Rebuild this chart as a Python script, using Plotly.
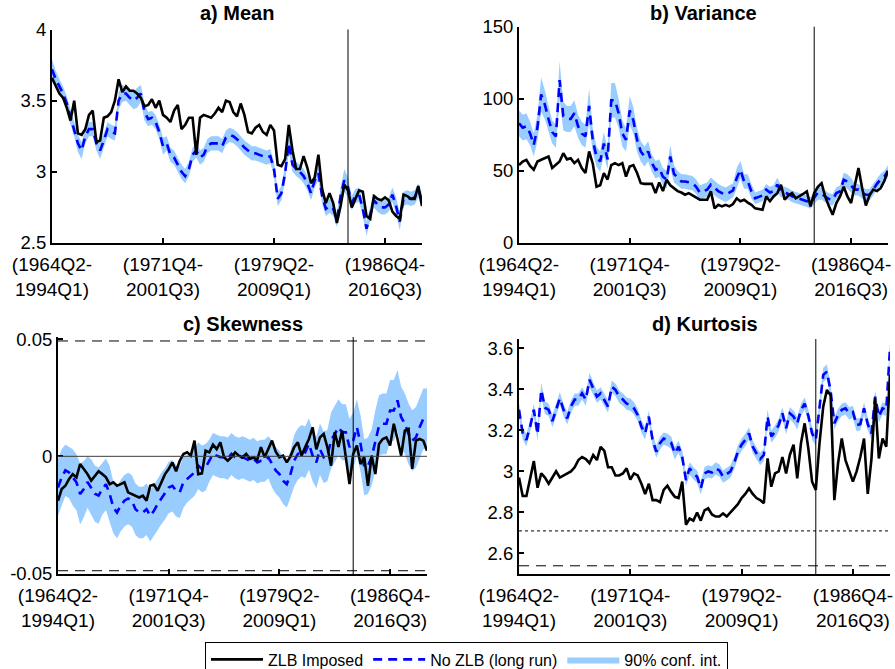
import numpy as np
import plotly.graph_objects as go

# Rolling 30-year windows, indexed in quarters from the 1964Q2-1994Q1 window
window_index = list(range(101))
window_ticks = [0, 30, 60, 90]
window_labels = ["(1964Q2-<br>1994Q1)", "(1971Q4-<br>2001Q3)",
                 "(1979Q2-<br>2009Q1)", "(1986Q4-<br>2016Q3)"]
zlb_window = 80

# a) Mean
mean_zlb = [3.66, 3.60, 3.55, 3.52, 3.45, 3.36, 3.50, 3.27, 3.26, 3.30,
            3.40, 3.43, 3.21, 3.22, 3.38, 3.39, 3.42, 3.50, 3.65, 3.56,
            3.60, 3.57, 3.57, 3.55, 3.52, 3.46, 3.47, 3.51, 3.45, 3.50,
            3.40, 3.38, 3.35, 3.43, 3.47, 3.30, 3.33, 3.38, 3.38, 3.12,
            3.38, 3.40, 3.39, 3.38, 3.41, 3.45, 3.42, 3.50, 3.49, 3.42,
            3.39, 3.48, 3.40, 3.28, 3.27, 3.31, 3.33, 3.28, 3.26, 3.33,
            3.29, 3.05, 3.04, 3.09, 3.33, 3.15, 3.02, 3.02, 3.11, 3.03,
            2.92, 2.96, 3.12, 2.88, 2.78, 2.85, 2.78, 2.64, 2.76, 2.91,
            2.87, 2.75, 2.81, 2.87, 2.86, 2.69, 2.67, 2.83, 2.81, 2.80,
            2.82, 2.80, 2.72, 2.69, 2.67, 2.84, 2.83, 2.81, 2.81, 2.90,
            2.76]
mean_nozlb = [3.72, 3.65, 3.60, 3.55, 3.48, 3.38, 3.30, 3.20, 3.15, 3.25,
              3.30, 3.30, 3.20, 3.15, 3.22, 3.30, 3.28, 3.27, 3.50, 3.55,
              3.55, 3.52, 3.50, 3.52, 3.55, 3.42, 3.37, 3.38, 3.35, 3.28,
              3.18, 3.20, 3.12, 3.10, 3.05, 3.00, 2.97, 3.02, 3.12, 3.15,
              3.10, 3.12, 3.18, 3.20, 3.20, 3.20, 3.18, 3.24, 3.26, 3.25,
              3.23, 3.20, 3.17, 3.15, 3.13, 3.13, 3.12, 3.11, 3.10, 3.11,
              3.02, 2.81, 2.85, 2.99, 3.20, 3.05, 3.02, 3.00, 2.97, 2.92,
              2.85, 2.94, 2.99, 2.83, 2.74, 2.76, 2.74, 2.66, 2.83, 2.94,
              2.89, 2.78, 2.83, 2.84, 2.74, 2.60, 2.71, 2.80, 2.77, 2.75,
              2.75, 2.77, 2.84, 2.76, 2.65, 2.81, 2.82, 2.81, 2.82, 2.87,
              2.80]
mean_ci_half = [0.07, 0.06, 0.05, 0.05, 0.05, 0.05, 0.05, 0.06, 0.06, 0.05,
                0.05, 0.05, 0.05, 0.06, 0.05, 0.05, 0.05, 0.05, 0.06, 0.06,
                0.05, 0.05, 0.06, 0.07, 0.06, 0.06, 0.05, 0.05, 0.05, 0.05,
                0.06, 0.05, 0.05, 0.05, 0.05, 0.05, 0.05, 0.05, 0.05, 0.05,
                0.05, 0.05, 0.05, 0.05, 0.05, 0.05, 0.05, 0.05, 0.05, 0.05,
                0.05, 0.05, 0.05, 0.05, 0.05, 0.05, 0.05, 0.05, 0.05, 0.05,
                0.05, 0.05, 0.05, 0.06, 0.06, 0.05, 0.05, 0.05, 0.05, 0.05,
                0.05, 0.05, 0.05, 0.05, 0.05, 0.05, 0.05, 0.05, 0.06, 0.08,
                0.07, 0.05, 0.05, 0.05, 0.05, 0.05, 0.05, 0.05, 0.05, 0.05,
                0.05, 0.05, 0.05, 0.06, 0.06, 0.05, 0.05, 0.05, 0.05, 0.05,
                0.05]

# b) Variance
var_zlb = [54, 56.5, 57.7, 53.5, 50.8, 56.5, 57.7, 58.8, 60, 52,
           54, 56.5, 62.3, 58, 58.8, 55.4, 57.7, 52, 48.5, 63.5,
           55, 39, 40, 48.5, 44, 54, 55.4, 54, 55.4, 46,
           53, 54, 48.5, 41.5, 41, 41, 41, 34.6, 42, 36,
           43.8, 40, 38, 36, 35, 33.5, 34.6, 33, 31, 30,
           30, 30, 35.8, 24, 26.5, 25.4, 26.5, 25.4, 27, 31,
           29, 30, 28, 26.5, 24, 23.5, 23, 32.3, 29, 32.3,
           34.6, 40.4, 30, 33, 34.6, 31, 32.3, 34, 35.8, 25.4,
           34.6, 39, 41.5, 32, 25.4, 19.6, 27.7, 32.3, 39, 32.3,
           27.7, 40, 52, 38, 26, 33, 37, 36, 38, 43,
           50]
var_nozlb = [83, 80, 81, 76, 68, 80, 103, 96, 86, 77,
             74, 113, 88, 86, 86, 90, 81, 76, 74, 95,
             71, 60, 56.5, 69, 58, 99, 99, 90, 76, 71.5,
             92, 85, 71.5, 63.5, 60, 63.5, 55.4, 50.8, 52, 46,
             44, 60, 48, 45, 42.7, 42.7, 42, 41.5, 39, 35,
             36, 37, 40.4, 38, 36, 34.6, 33.5, 35, 36.5, 45,
             50.8, 42.7, 42.7, 35.8, 31, 32, 33, 37, 35, 36,
             40.4, 35.8, 35, 34, 32.3, 31.5, 30.5, 30, 29, 27.7,
             31, 35, 34, 32.3, 30.5, 30, 34.6, 35.8, 43.8, 42.7,
             40, 37, 37, 34.6, 33.5, 33.5, 37, 41, 44, 46,
             50]
var_ci_half = [9, 9, 9, 8, 8, 9, 12, 10, 9, 8,
               8, 13, 10, 9, 9, 9, 8, 8, 8, 12,
               8, 7, 7, 8, 7, 12, 12, 10, 9, 8,
               10, 9, 8, 7, 7, 7, 6, 6, 6, 6,
               6, 8, 6, 5, 5, 5, 5, 5, 5, 5,
               5, 5, 5, 5, 5, 5, 5, 5, 5, 7,
               6, 5, 5, 5, 4, 4, 4, 4, 4, 4,
               5, 4, 4, 4, 4, 4, 4, 4, 4, 4,
               4, 5, 4, 4, 4, 4, 4, 4, 5, 5,
               5, 4, 4, 4, 4, 4, 4, 4, 4, 4,
               4]

# c) Skewness
skew_zlb = [-0.019, -0.014, -0.0126, -0.0097, -0.0076, -0.009, -0.0033, -0.0054, -0.0076, -0.0104,
            -0.0083, -0.0064, -0.0076, -0.009, -0.0119, -0.0111, -0.0126, -0.0119, -0.0111, -0.0154,
            -0.0161, -0.0168, -0.0176, -0.0168, -0.019, -0.0126, -0.0121, -0.0147, -0.0111, -0.0076,
            -0.0054, -0.0026, -0.0064, -0.0019, 0.001, 0.0017, 0.0003, 0.0067, -0.0076, -0.0073,
            0.0024, 0.0017, 0.005, 0.0031, 0.006, -0.0004, -0.0019, -0.0004, 0.0017, 0.0003,
            -0.0004, 0.001, -0.0011, -0.0005, -0.0015, 0.0039, -0.0004, 0.003, 0.0067, 0.002,
            -0.0004, 0.0003, -0.0026, 0.0, 0.0039, 0.006, 0.0003, 0.004, 0.0074, 0.0124,
            0.003, 0.0081, 0.0096, 0.0039, -0.004, 0.0103, 0.004, 0.011, -0.0004, -0.0119,
            0.001, 0.0046, -0.0033, -0.0004, -0.0126, 0.0003, -0.0076, 0.0053, 0.0074, 0.0081,
            0.0046, 0.0139, 0.0074, 0.0003, 0.011, 0.0117, -0.0054, 0.0067, 0.0074, 0.0067,
            0.0024]
skew_nozlb = [-0.0133, -0.009, -0.006, -0.0069, -0.009, -0.0111, -0.0161, -0.014, -0.011, -0.0133,
              -0.016, -0.0168, -0.014, -0.0119, -0.0161, -0.0219, -0.024, -0.021, -0.019, -0.018,
              -0.019, -0.0226, -0.024, -0.024, -0.0226, -0.0254, -0.0233, -0.0204, -0.018, -0.016,
              -0.0133, -0.0126, -0.0147, -0.0154, -0.011, -0.0097, -0.0083, -0.0069, -0.004, -0.0054,
              -0.0047, -0.0019, 0.001, 0.0003, -0.0004, -0.0004, -0.001, 0.001, -0.0004, -0.0011,
              -0.0004, -0.0011, -0.0019, -0.0011, -0.0026, -0.0019, -0.0019, -0.0004, -0.0033, -0.006,
              -0.0076, -0.0104, -0.0119, -0.0076, -0.0019, 0.001, 0.0024, 0.0017, 0.0053, 0.0003,
              -0.0026, 0.003, -0.0004, 0.0003, 0.0067, 0.0096, 0.0124, 0.0103, 0.0103, 0.0039,
              0.0067, 0.0124, 0.0053, -0.0047, -0.004, -0.0004, 0.0067, 0.0131, 0.0139, 0.0139,
              0.0196, 0.0196, 0.0239, 0.0167, 0.0139, 0.0096, 0.0067, 0.0081, 0.0124, 0.016,
              0.016]
skew_ci_half = [0.012, 0.012, 0.011, 0.011, 0.012, 0.012, 0.013, 0.012, 0.011, 0.012,
                0.012, 0.012, 0.011, 0.011, 0.012, 0.011, 0.011, 0.011, 0.011, 0.011,
                0.011, 0.011, 0.011, 0.011, 0.011, 0.011, 0.011, 0.011, 0.011, 0.011,
                0.011, 0.011, 0.011, 0.011, 0.011, 0.010, 0.010, 0.010, 0.010, 0.010,
                0.010, 0.009, 0.009, 0.009, 0.009, 0.009, 0.009, 0.009, 0.009, 0.009,
                0.009, 0.009, 0.009, 0.009, 0.009, 0.009, 0.009, 0.009, 0.010, 0.010,
                0.010, 0.010, 0.010, 0.010, 0.011, 0.011, 0.011, 0.011, 0.011, 0.011,
                0.011, 0.011, 0.011, 0.011, 0.012, 0.012, 0.012, 0.012, 0.012, 0.012,
                0.012, 0.012, 0.012, 0.012, 0.012, 0.012, 0.013, 0.013, 0.013, 0.013,
                0.013, 0.013, 0.013, 0.013, 0.013, 0.013, 0.013, 0.013, 0.013, 0.013,
                0.013]

# d) Kurtosis
kurt_zlb = [2.97, 2.88, 2.88, 2.96, 3.05, 2.92, 2.99, 2.97, 2.94, 2.97,
            3.00, 2.97, 2.98, 2.99, 3.00, 3.02, 3.055, 3.07, 3.06, 3.04,
            3.08, 3.055, 3.12, 3.10, 3.02, 3.02, 2.98, 2.98, 2.99, 3.015,
            2.96, 2.99, 2.98, 2.94, 2.89, 2.94, 2.86, 2.86, 2.85, 2.91,
            2.93, 2.90, 2.876, 2.87, 2.95, 2.74, 2.77, 2.76, 2.80, 2.76,
            2.81, 2.82, 2.79, 2.78, 2.78, 2.795, 2.78, 2.80, 2.82, 2.84,
            2.87, 2.89, 2.917, 2.89, 2.87, 2.86, 2.845, 3.063, 2.925, 2.99,
            3.00, 3.07, 2.99, 3.08, 3.13, 2.966, 3.137, 3.234, 3.11, 2.95,
            2.91, 3.137, 3.315, 3.397, 3.37, 2.86, 3.04, 3.16, 3.055, 3.00,
            2.95, 3.00, 3.07, 3.16, 2.89, 3.06, 3.356, 3.063, 3.16, 3.12,
            3.47]
kurt_nozlb = [3.30, 3.185, 3.153, 3.218, 3.30, 3.18, 3.397, 3.31, 3.30, 3.245,
              3.30, 3.356, 3.30, 3.258, 3.316, 3.35, 3.35, 3.38, 3.35, 3.446,
              3.405, 3.364, 3.38, 3.35, 3.316, 3.413, 3.397, 3.364, 3.35, 3.33,
              3.325, 3.307, 3.275, 3.218, 3.185, 3.267, 3.153, 3.096, 3.137, 3.16,
              3.153, 3.14, 3.088, 3.12, 3.07, 2.958, 3.015, 2.99, 2.974, 2.917,
              2.99, 3.00, 2.995, 3.015, 3.005, 2.974, 2.985, 3.00, 3.04, 3.096,
              3.13, 3.153, 3.185, 3.12, 3.088, 3.06, 3.08, 3.267, 3.17, 3.193,
              3.226, 3.283, 3.21, 3.283, 3.267, 3.234, 3.30, 3.33, 3.27, 3.185,
              3.153, 3.316, 3.47, 3.486, 3.39, 3.234, 3.275, 3.30, 3.307, 3.283,
              3.29, 3.226, 3.23, 3.307, 3.23, 3.185, 3.364, 3.267, 3.307, 3.30,
              3.60]
kurt_ci_half = [0.035, 0.03, 0.03, 0.03, 0.03, 0.03, 0.035, 0.03, 0.03, 0.03,
                0.03, 0.03, 0.03, 0.03, 0.03, 0.03, 0.03, 0.03, 0.03, 0.035,
                0.03, 0.03, 0.03, 0.03, 0.03, 0.03, 0.03, 0.03, 0.03, 0.03,
                0.03, 0.03, 0.03, 0.03, 0.03, 0.03, 0.03, 0.03, 0.03, 0.03,
                0.03, 0.03, 0.03, 0.03, 0.03, 0.03, 0.03, 0.03, 0.03, 0.03,
                0.03, 0.03, 0.03, 0.03, 0.03, 0.03, 0.03, 0.03, 0.03, 0.03,
                0.03, 0.03, 0.03, 0.03, 0.03, 0.03, 0.03, 0.035, 0.03, 0.03,
                0.03, 0.03, 0.03, 0.03, 0.03, 0.03, 0.03, 0.03, 0.03, 0.03,
                0.03, 0.03, 0.035, 0.035, 0.03, 0.03, 0.03, 0.03, 0.03, 0.03,
                0.03, 0.03, 0.03, 0.03, 0.03, 0.03, 0.03, 0.03, 0.03, 0.03,
                0.035]

FONT = "Liberation Sans, Arial, sans-serif"
BAND = "rgb(153,204,255)"
W, H = 895, 669

panels = [
    dict(key="", title="<b>a) Mean</b>", zlb=mean_zlb, nozlb=mean_nozlb, half=mean_ci_half,
         px=(52, 422), py=(29.5, 243), yr=[2.5, 4], yt=[2.5, 3, 3.5, 4], ytt=["2.5", "3", "3.5", "4"]),
    dict(key="2", title="<b>b) Variance</b>", zlb=var_zlb, nozlb=var_nozlb, half=var_ci_half,
         px=(519, 888), py=(26.7, 243), yr=[0, 150], yt=[0, 50, 100, 150], ytt=["0", "50", "100", "150"]),
    dict(key="3", title="<b>c) Skewness</b>", zlb=skew_zlb, nozlb=skew_nozlb, half=skew_ci_half,
         px=(58, 427), py=(337, 574), yr=[-0.0503, 0.051], yt=[-0.05, 0, 0.05], ytt=["-0.05", "0", "0.05"]),
    dict(key="4", title="<b>d) Kurtosis</b>", zlb=kurt_zlb, nozlb=kurt_nozlb, half=kurt_ci_half,
         px=(519, 890), py=(339, 574), yr=[2.5, 3.645], yt=[2.6, 2.8, 3.0, 3.2, 3.4, 3.6],
         ytt=["2.6", "2.8", "3", "3.2", "3.4", "3.6"]),
]

fig = go.Figure()
layout = dict(width=W, height=H, margin=dict(l=0, r=0, t=0, b=0, autoexpand=False),
              paper_bgcolor="white", plot_bgcolor="white",
              font=dict(family=FONT, size=18, color="black"))
annotations, shapes = [], []

axis_style = dict(showline=True, linecolor="black", linewidth=2, ticks="inside",
                  ticklen=5, tickwidth=1.5, tickcolor="black", showgrid=False,
                  zeroline=False, mirror=False, automargin=False,
                  tickfont=dict(size=18.5, family=FONT, color="black"))

x = np.array(window_index)
for n, p in enumerate(panels):
    xa, ya = "x" + p["key"], "y" + p["key"]
    centre = np.array(p["nozlb"], dtype=float)
    half = np.array(p["half"], dtype=float)
    lo, hi = centre - half, centre + half
    first = n == 0

    fig.add_trace(go.Scatter(
        x=np.concatenate([x, x[::-1]]), y=np.concatenate([hi, lo[::-1]]),
        fill="toself", fillcolor=BAND, line=dict(width=0, color=BAND),
        mode="lines", name="90% conf. int.", showlegend=first, legendrank=3,
        hoverinfo="skip", xaxis=xa, yaxis=ya))
    fig.add_trace(go.Scatter(
        x=x, y=p["nozlb"], mode="lines", name="No ZLB (long run)",
        line=dict(color="rgb(0,0,255)", width=2.6, dash="9px,6px"),
        showlegend=first, legendrank=2, xaxis=xa, yaxis=ya))
    fig.add_trace(go.Scatter(
        x=x, y=p["zlb"], mode="lines", name="ZLB Imposed",
        line=dict(color="black", width=2.6),
        showlegend=first, legendrank=1, xaxis=xa, yaxis=ya))

    x0, x1 = p["px"][0] / W, p["px"][1] / W
    y0, y1 = 1 - p["py"][1] / H, 1 - p["py"][0] / H
    layout["xaxis" + p["key"]] = dict(
        axis_style, domain=[x0, x1], range=[0, 100], anchor=ya,
        tickvals=window_ticks, ticktext=window_labels,
        tickfont=dict(size=19, family=FONT, color="black"), ticklabelstandoff=3)
    layout["yaxis" + p["key"]] = dict(
        axis_style, domain=[y0, y1], range=p["yr"], anchor=xa,
        tickvals=p["yt"], ticktext=p["ytt"])

    annotations.append(dict(
        text=p["title"], x=(x0 + x1) / 2, xref="paper", xanchor="center",
        y=1 - (13 if n < 2 else 324) / H, yref="paper", yanchor="middle",
        showarrow=False, font=dict(size=20, family=FONT, color="black")))

    # ZLB window marker
    shapes.append(dict(type="line", xref=xa, yref=ya + " domain",
                       x0=zlb_window, x1=zlb_window, y0=0, y1=1,
                       line=dict(color="black", width=1)))

# reference levels for skewness
for lvl, dash, col in [(0, "solid", "rgb(60,60,60)"), (0.0493, "10px,7px", "black"),
                       (-0.0489, "10px,7px", "black")]:
    shapes.append(dict(type="line", xref="x3 domain", yref="y3", x0=0, x1=1,
                       y0=lvl, y1=lvl, line=dict(color=col, width=1, dash=dash)))
# reference levels for kurtosis
for lvl, dash in [(2.71, "dot"), (2.54, "10px,7px")]:
    shapes.append(dict(type="line", xref="x4 domain", yref="y4", x0=0, x1=1,
                       y0=lvl, y1=lvl, line=dict(color="black", width=1, dash=dash)))

layout["annotations"] = annotations
layout["shapes"] = shapes
layout["legend"] = dict(orientation="h", x=205 / W, xanchor="left",
                        y=1 - 641.5 / H, yanchor="top",
                        bordercolor="black", borderwidth=1, bgcolor="white",
                        font=dict(size=16, family=FONT, color="black"),
                        traceorder="normal", itemwidth=52)
fig.update_layout(**layout)

fig.write_html("out.html")
